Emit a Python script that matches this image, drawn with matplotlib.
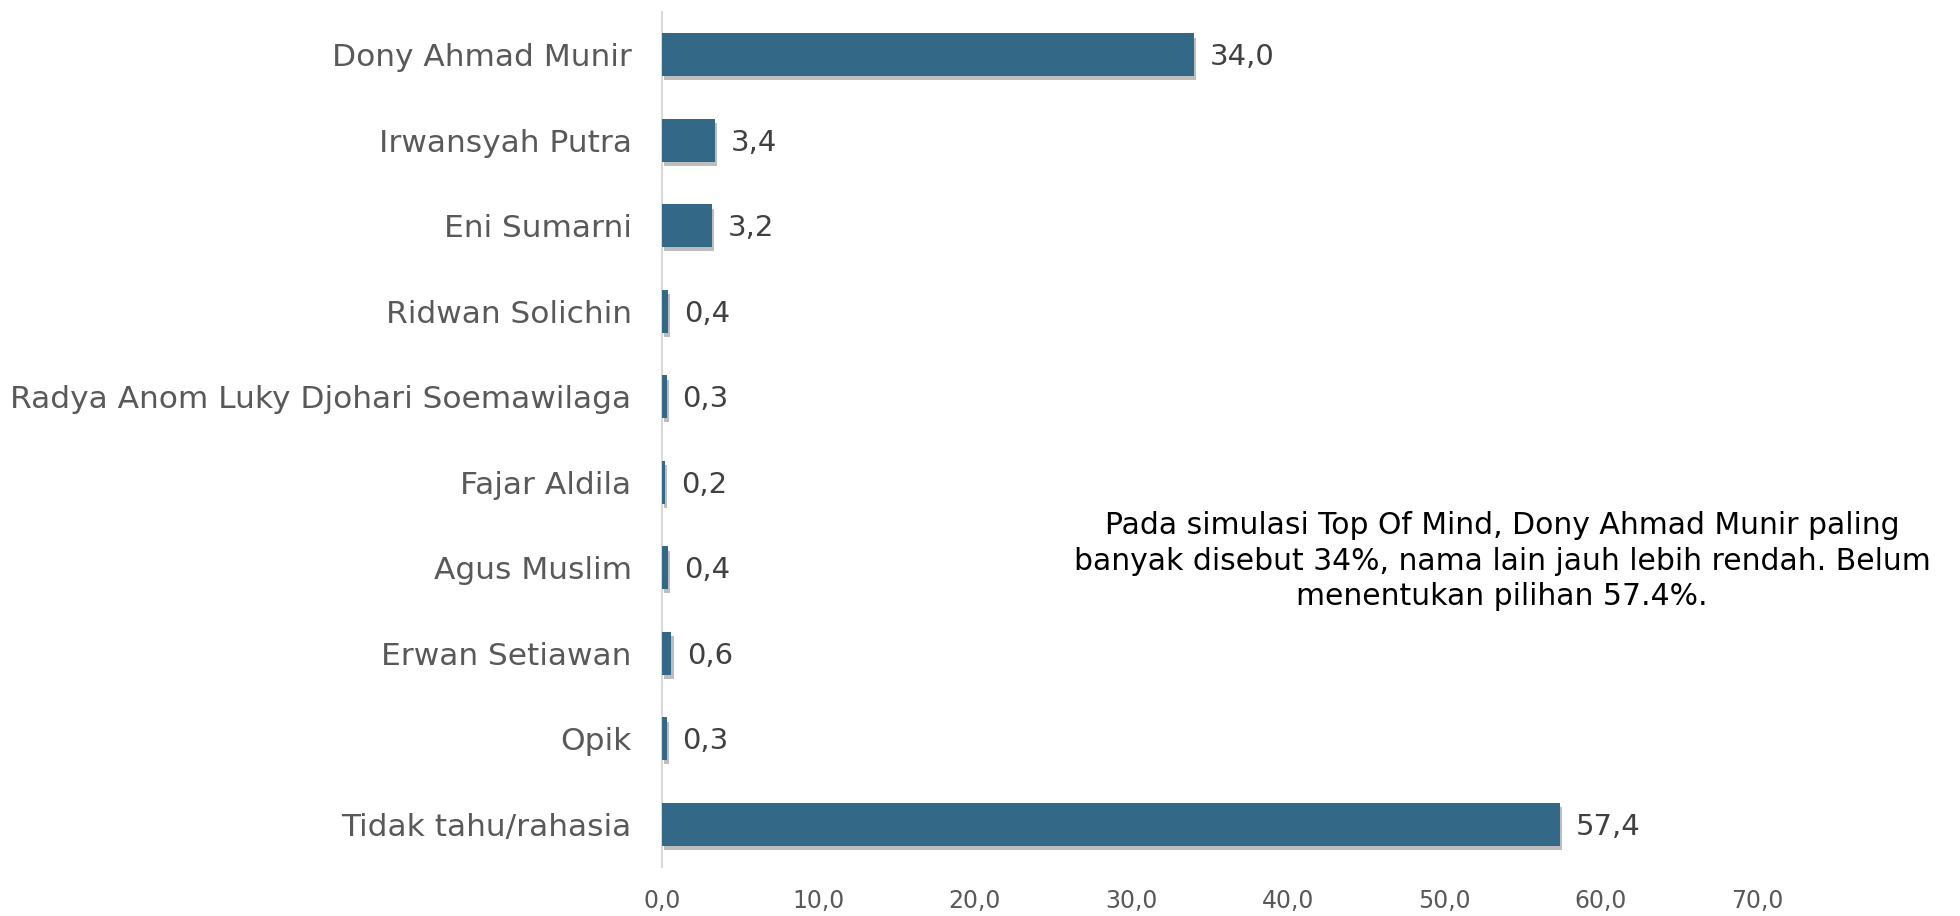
import matplotlib
matplotlib.use("Agg")
import matplotlib.pyplot as plt
import matplotlib.patheffects as pe

plt.rcParams['font.family'] = ['DejaVu Sans']

categories = ["Dony Ahmad Munir", "Irwansyah Putra", "Eni Sumarni", "Ridwan Solichin",
              "Radya Anom Luky Djohari Soemawilaga", "Fajar Aldila", "Agus Muslim",
              "Erwan Setiawan", "Opik", "Tidak tahu/rahasia"]
values = [34.0, 3.4, 3.2, 0.4, 0.3, 0.2, 0.4, 0.6, 0.3, 57.4]
xticks = [0, 10, 20, 30, 40, 50, 60, 70]
note = ("Pada simulasi Top Of Mind, Dony Ahmad Munir paling\n"
        "banyak disebut 34%, nama lain jauh lebih rendah. Belum\n"
        "menentukan pilihan 57.4%.")

fig = plt.figure(figsize=(19.6, 9.16), dpi=100)
ax = fig.add_axes([0.3378, 0.0535, 0.8964 - 0.3378, 0.9869 - 0.0535])

ypos = list(range(len(categories)))
bars = ax.barh(ypos, values, height=0.5, color="#336887", zorder=3)
for b in bars:
    b.set_path_effects([pe.SimplePatchShadow(offset=(1.5, -3), shadow_rgbFace="#888888", alpha=0.55),
                        pe.Normal()])

for y, v in zip(ypos, values):
    ax.text(v + 1.0, y + 0.03, f"{v:.1f}".replace(".", ","), va="center", ha="left",
            fontsize=21, color="#404040")

ax.set_ylim(len(categories) - 0.5, -0.5)
ax.set_xlim(0, 70)
ax.set_yticks(ypos)
ax.set_yticklabels(categories, fontsize=22.5, color="#595959")
ax.set_xticks(xticks)
ax.set_xticklabels([f"{t:.1f}".replace(".", ",") for t in xticks], fontsize=17, color="#595959")
ax.tick_params(axis="y", length=0, pad=22)
ax.tick_params(axis="x", length=0, pad=16)
for s in ["top", "right", "bottom"]:
    ax.spines[s].set_visible(False)
ax.spines["left"].set_color("#D9D9D9")
ax.spines["left"].set_linewidth(1.5)

fig.text(1502 / 1960, 1 - 561 / 916, note, ha="center", va="center", fontsize=21.5,
         color="black", linespacing=1.3)

fig.savefig("out.png", dpi=100)
